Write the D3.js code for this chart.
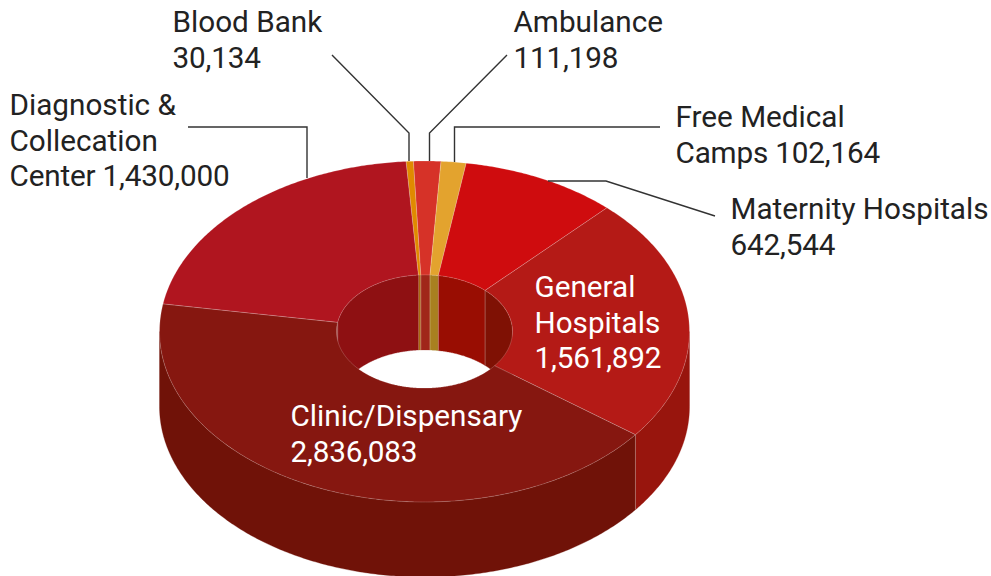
<!DOCTYPE html>
<html><head><meta charset="utf-8">
<style>html,body{margin:0;padding:0;background:#fff}svg{display:block}text{font-family:Roboto,sans-serif;font-size:29.7px}</style>
<script src="https://cdn.jsdelivr.net/npm/d3@7/dist/d3.min.js"></script>
</head><body><div id="c"></div>
<script>
const categories = ["Blood Bank","Ambulance","Free Medical Camps","Maternity Hospitals","General Hospitals","Clinic/Dispensary","Diagnostic & Collecation Center"];
const values = [30134,111198,102164,642544,1561892,2836083,1430000];
const topColors = ["#e08a00","#d63228","#e3a32e","#cf0c0e","#b41a16","#861710","#b0151f"];
const outerWallColors = ["#a86a10","#a0261a","#a88020","#990d02","#98150d","#701208","#8e1012"];
const innerWallColors = ["#a86a10","#a0261a","#a88020","#990d02","#7f1104","#861710","#8e1012"];
const labelLines = [["Blood Bank","30,134"],["Ambulance","111,198"],["Free Medical","Camps 102,164"],["Maternity Hospitals","642,544"],["General","Hospitals","1,561,892"],["Clinic/Dispensary","2,836,083"],["Diagnostic &","Collecation","Center 1,430,000"]];
const labelPos = [[172.5,32],[513.5,32],[675.5,127],[730.5,219],[534.5,297],[290.5,426],[9.5,115]];
const labelFill = ["#222","#222","#222","#222","#fff","#fff","#222"];
const leaders = [[[332,55],[409,133],[409,161]],[[507,55],[429.5,133],[429.5,161]],[[660,127],[454.5,127],[454.5,162]],[[715,216],[606,181],[548,181]],[],[],[[188,127],[307,127],[307,178]]];

const W=991,H=576,cx=424.5,cy=331.5,rx=265,ry=170.5,hole=0.332,depth=75;
const sx=d3.scaleLinear().domain([-1,1]).range([cx-rx,cx+rx]);
const sy=d3.scaleLinear().domain([-1,1]).range([cy-ry,cy+ry]);
const svg=d3.select("#c").append("svg").attr("width",W).attr("height",H);
const start=-4.0*Math.PI/180;
const arcs=d3.pie().sort(null).startAngle(start).endAngle(start+2*Math.PI)(values);
const line=d3.line();
const pt=(t,r,z)=>[sx(r*Math.sin(t)),sy(-r*Math.cos(t))+z];
const samples=(a,b)=>{const n=Math.max(2,Math.ceil(Math.abs(b-a)/0.01));return d3.range(n+1).map(i=>a+(b-a)*i/n);};
const seam="rgba(255,255,255,0.28)";
const TAU=2*Math.PI;

// inner wall (far half of the hole)
arcs.forEach((d,i)=>{
  [0,-TAU].forEach(off=>{
    const a=Math.max(d.startAngle+off,-Math.PI/2),b=Math.min(d.endAngle+off,Math.PI/2);
    if(b<=a) return;
    const ts=samples(a,b);
    const p=ts.map(t=>pt(t,hole,0)).concat(ts.slice().reverse().map(t=>pt(t,hole,depth)));
    svg.append("path").attr("d",line(p)+"Z").attr("fill",innerWallColors[i]).attr("stroke",innerWallColors[i]).attr("stroke-width",0.3);
    if(a>-Math.PI/2) svg.append("path").attr("d",line([pt(a,hole,0),pt(a,hole,depth)])).attr("stroke",seam).attr("fill","none");
  });
});
// outer wall (near half)
arcs.forEach((d,i)=>{
  const a=Math.max(d.startAngle,Math.PI/2),b=Math.min(d.endAngle,3*Math.PI/2);
  if(b<=a) return;
  const ts=samples(a,b);
  const p=ts.map(t=>pt(t,1,0)).concat(ts.slice().reverse().map(t=>pt(t,1,depth)));
  svg.append("path").attr("d",line(p)+"Z").attr("fill",outerWallColors[i]).attr("stroke",outerWallColors[i]).attr("stroke-width",0.3);
  if(a>Math.PI/2) svg.append("path").attr("d",line([pt(a,1,0),pt(a,1,depth)])).attr("stroke",seam).attr("fill","none");
});
// top faces
arcs.forEach((d,i)=>{
  const ts=samples(d.startAngle,d.endAngle);
  const p=ts.map(t=>pt(t,1,0)).concat(ts.slice().reverse().map(t=>pt(t,hole,0)));
  svg.append("path").attr("d",line(p)+"Z").attr("fill",topColors[i]).attr("stroke",seam).attr("stroke-width",0.7);
});
// leaders
leaders.forEach(l=>{ if(l.length) svg.append("path").attr("d",line(l)).attr("fill","none").attr("stroke","#333").attr("stroke-width",1.4); });
// labels
labelLines.forEach((lines,i)=>{
  const t=svg.append("text").attr("fill",labelFill[i]);
  lines.forEach((s,j)=>t.append("tspan").attr("x",labelPos[i][0]).attr("y",labelPos[i][1]+j*35.6)
    .attr("letter-spacing",/\d/.test(s)?-0.18:null).text(s));
});
</script></body></html>
